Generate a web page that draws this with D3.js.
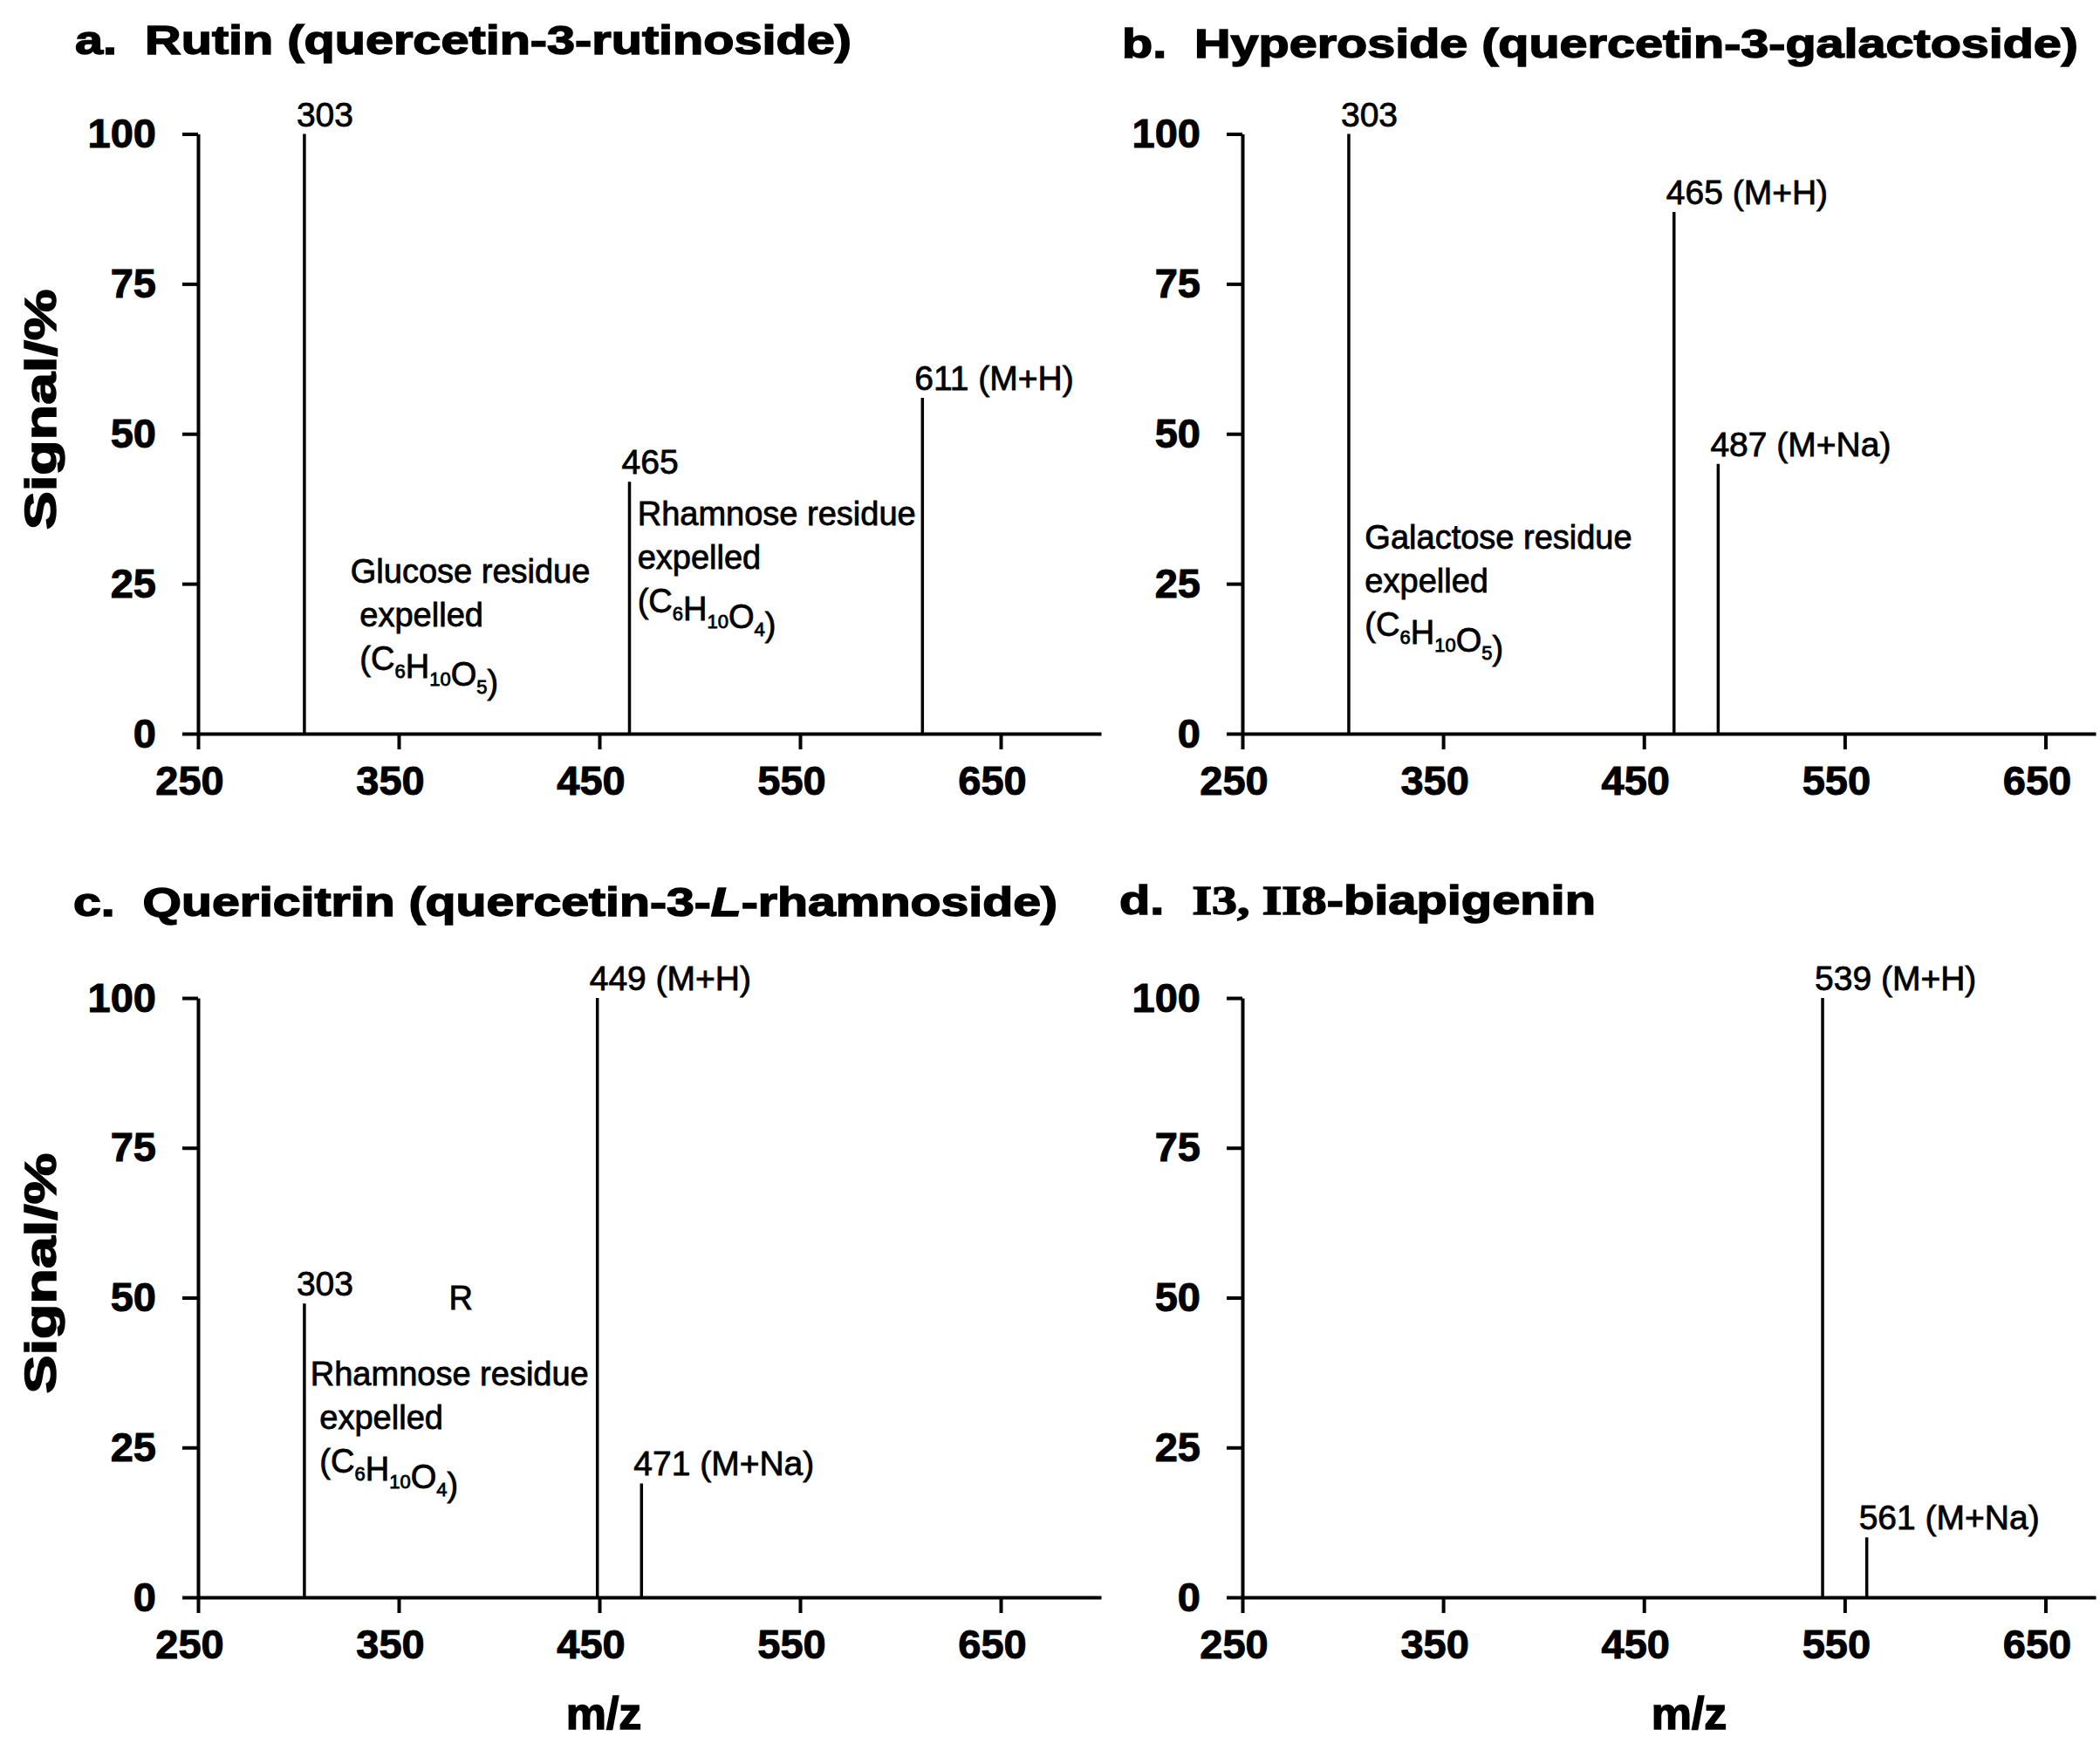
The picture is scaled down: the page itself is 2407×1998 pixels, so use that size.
<!DOCTYPE html>
<html>
<head>
<meta charset="utf-8">
<script src="https://cdn.jsdelivr.net/npm/d3@7"></script>
<style>
body { margin:0; background:#fff; }
text { white-space: pre; }
</style>
</head>
<body>
<svg id="mainSVG" width="2407" height="1998"></svg>
<script>
// axis ticks
var yTicks = [0, 25, 50, 75, 100];
var xTicks = [250, 350, 450, 550, 650];

// a. Rutin
var mzA = [303, 465, 611];
var sigA = [100, 42, 56];
var labA = ["303", "465", "611 (M+H)"];
// b. Hyperoside
var mzB = [303, 465, 487];
var sigB = [100, 87, 45];
var labB = ["303", "465 (M+H)", "487 (M+Na)"];
// c. Quericitrin
var mzC = [303, 449, 471];
var sigC = [49, 100, 19];
var labC = ["303", "449 (M+H)", "471 (M+Na)"];
// d. biapigenin
var mzD = [539, 561];
var sigD = [100, 10];
var labD = ["539 (M+H)", "561 (M+Na)"];

// annotation blocks: anchor m/z, signal and lines of text
var notesA = [
  {mz: 326, sig: 25.2, lines: ["Glucose residue", " expelled", " (C6H10O5)"]},
  {mz: 469, sig: 34.8, lines: ["Rhamnose residue", "expelled", "(C6H10O4)"]}
];
var notesB = [
  {mz: 311, sig: 30.8, lines: ["Galactose residue", "expelled", "(C6H10O5)"]}
];
var notesC = [
  {mz: 306, sig: 35.3, lines: ["Rhamnose residue", " expelled", " (C6H10O4)"]},
  {mz: 375, sig: 48, lines: ["R"]}
];
var notesD = [];

// "|" switches to italic, "~" switches to serif
var titles = ["a.  Rutin (quercetin-3-rutinoside)",
              "b.  Hyperoside (quercetin-3-galactoside)",
              "c.  Quericitrin (quercetin-3-|L|-rhamnoside)",
              "d.  ~I3, II8~-biapigenin"];

var svg = d3.select("#mainSVG");
var sans = "'Liberation Sans', Arial, sans-serif";
var serif = "'Liberation Serif', 'Times New Roman', serif";

function addFormula(sel, str) {
  // digits inside a formula in brackets are subscripts
  var inFormula = str.indexOf("(") >= 0;
  var parts = str.match(/[0-9]+|[^0-9]+/g);
  parts.forEach(function(part) {
    if (inFormula && /^[0-9]+$/.test(part)) {
      sel.append("tspan").attr("font-size", 22).attr("dy", 9).text(part);
      sel.append("tspan").attr("dy", -9).text("");
    } else {
      sel.append("tspan").text(part);
    }
  });
}

function drawPanel(p, mz, sig, lab, notes) {
  var x = d3.scaleLinear().domain([250, p.xMax]).range([p.left, p.right]);
  var y = d3.scaleLinear().domain([0, 100]).range([p.bottom, p.top]);
  var g = svg.append("g");

  // axes
  var xa = g.append("g").attr("transform", "translate(0," + p.bottom + ")")
    .call(d3.axisBottom(x).tickValues(xTicks).tickSize(18).tickSizeOuter(0).tickPadding(19));
  var ya = g.append("g").attr("transform", "translate(" + p.left + ",0)")
    .call(d3.axisLeft(y).tickValues(yTicks).tickSize(18).tickSizeOuter(0).tickPadding(30));
  [xa, ya].forEach(function(a) {
    a.attr("font-family", sans).attr("font-size", 47).attr("font-weight", "bold");
    a.selectAll("path, line").attr("stroke", "#000").attr("stroke-width", 4);
    a.selectAll("text").attr("stroke", "#000").attr("stroke-width", 1);
  });
  xa.selectAll("text").attr("dx", -10);

  // peaks
  g.selectAll(".peak").data(mz).enter().append("line")
    .attr("class", "peak")
    .attr("x1", function(d) { return x(d); })
    .attr("x2", function(d) { return x(d); })
    .attr("y1", y(0))
    .attr("y2", function(d, i) { return y(sig[i]); })
    .attr("stroke", "#000")
    .attr("stroke-width", 3.5);

  g.selectAll(".plab").data(mz).enter().append("text")
    .attr("class", "plab")
    .attr("x", function(d) { return x(d) - 9; })
    .attr("y", function(d, i) { return y(sig[i]) - 9; })
    .attr("font-family", sans)
    .attr("font-size", 39)
    .attr("stroke", "#000")
    .attr("stroke-width", 0.8)
    .text(function(d, i) { return lab[i]; });

  // annotations
  notes.forEach(function(n) {
    n.lines.forEach(function(line, j) {
      var t = g.append("text")
        .attr("x", x(n.mz))
        .attr("y", y(n.sig) + j * 50)
        .attr("font-family", sans)
        .attr("font-size", 38)
        .attr("stroke", "#000")
        .attr("stroke-width", 0.8);
      addFormula(t, line);
    });
  });

  // title
  var tt = g.append("text")
    .attr("x", p.titleX)
    .attr("y", p.titleY)
    .attr("font-family", sans)
    .attr("font-size", 47)
    .attr("font-weight", "bold")
    .attr("stroke", "#000")
    .attr("stroke-width", 1.5)
    .attr("textLength", p.titleW)
    .attr("lengthAdjust", "spacingAndGlyphs");
  p.title.split("|").forEach(function(s, k) {
    s.split("~").forEach(function(s2, m) {
      var ts = tt.append("tspan").text(s2);
      if (k == 1) ts.attr("font-style", "italic");
      if (m == 1) ts.attr("font-family", serif);
    });
  });

  // y label
  if (p.yLabel) {
    svg.append("text")
      .attr("transform", "translate(64," + ((p.top + p.bottom) / 2 - 28) + ") rotate(-90)")
      .attr("text-anchor", "middle")
      .attr("font-family", sans)
      .attr("font-size", 50)
      .attr("font-weight", "bold")
      .attr("stroke", "#000")
      .attr("stroke-width", 1.5)
      .attr("textLength", 276)
      .attr("lengthAdjust", "spacingAndGlyphs")
      .text("Signal/%");
  }
  // x label
  if (p.xLabel) {
    svg.append("text")
      .attr("x", p.xLabelX)
      .attr("y", 1982)
      .attr("text-anchor", "middle")
      .attr("font-family", sans)
      .attr("font-size", 52)
      .attr("font-weight", "bold")
      .attr("stroke", "#000")
      .attr("stroke-width", 1.5)
      .text("m/z");
  }
}

drawPanel({left: 227, right: 1262, xMax: 700, top: 153.5, bottom: 841,
           title: titles[0], titleX: 86, titleY: 62, titleW: 890, yLabel: true},
          mzA, sigA, labA, notesA);
drawPanel({left: 1424, right: 2402, xMax: 675, top: 153.5, bottom: 841,
           title: titles[1], titleX: 1286, titleY: 66, titleW: 1096},
          mzB, sigB, labB, notesB);
drawPanel({left: 227, right: 1262, xMax: 700, top: 1144, bottom: 1831,
           title: titles[2], titleX: 84, titleY: 1050, titleW: 1128, yLabel: true,
           xLabel: true, xLabelX: 692},
          mzC, sigC, labC, notesC);
drawPanel({left: 1424, right: 2402, xMax: 675, top: 1144, bottom: 1831,
           title: titles[3], titleX: 1283, titleY: 1048, titleW: 546,
           xLabel: true, xLabelX: 1936},
          mzD, sigD, labD, notesD);
</script>
</body>
</html>
